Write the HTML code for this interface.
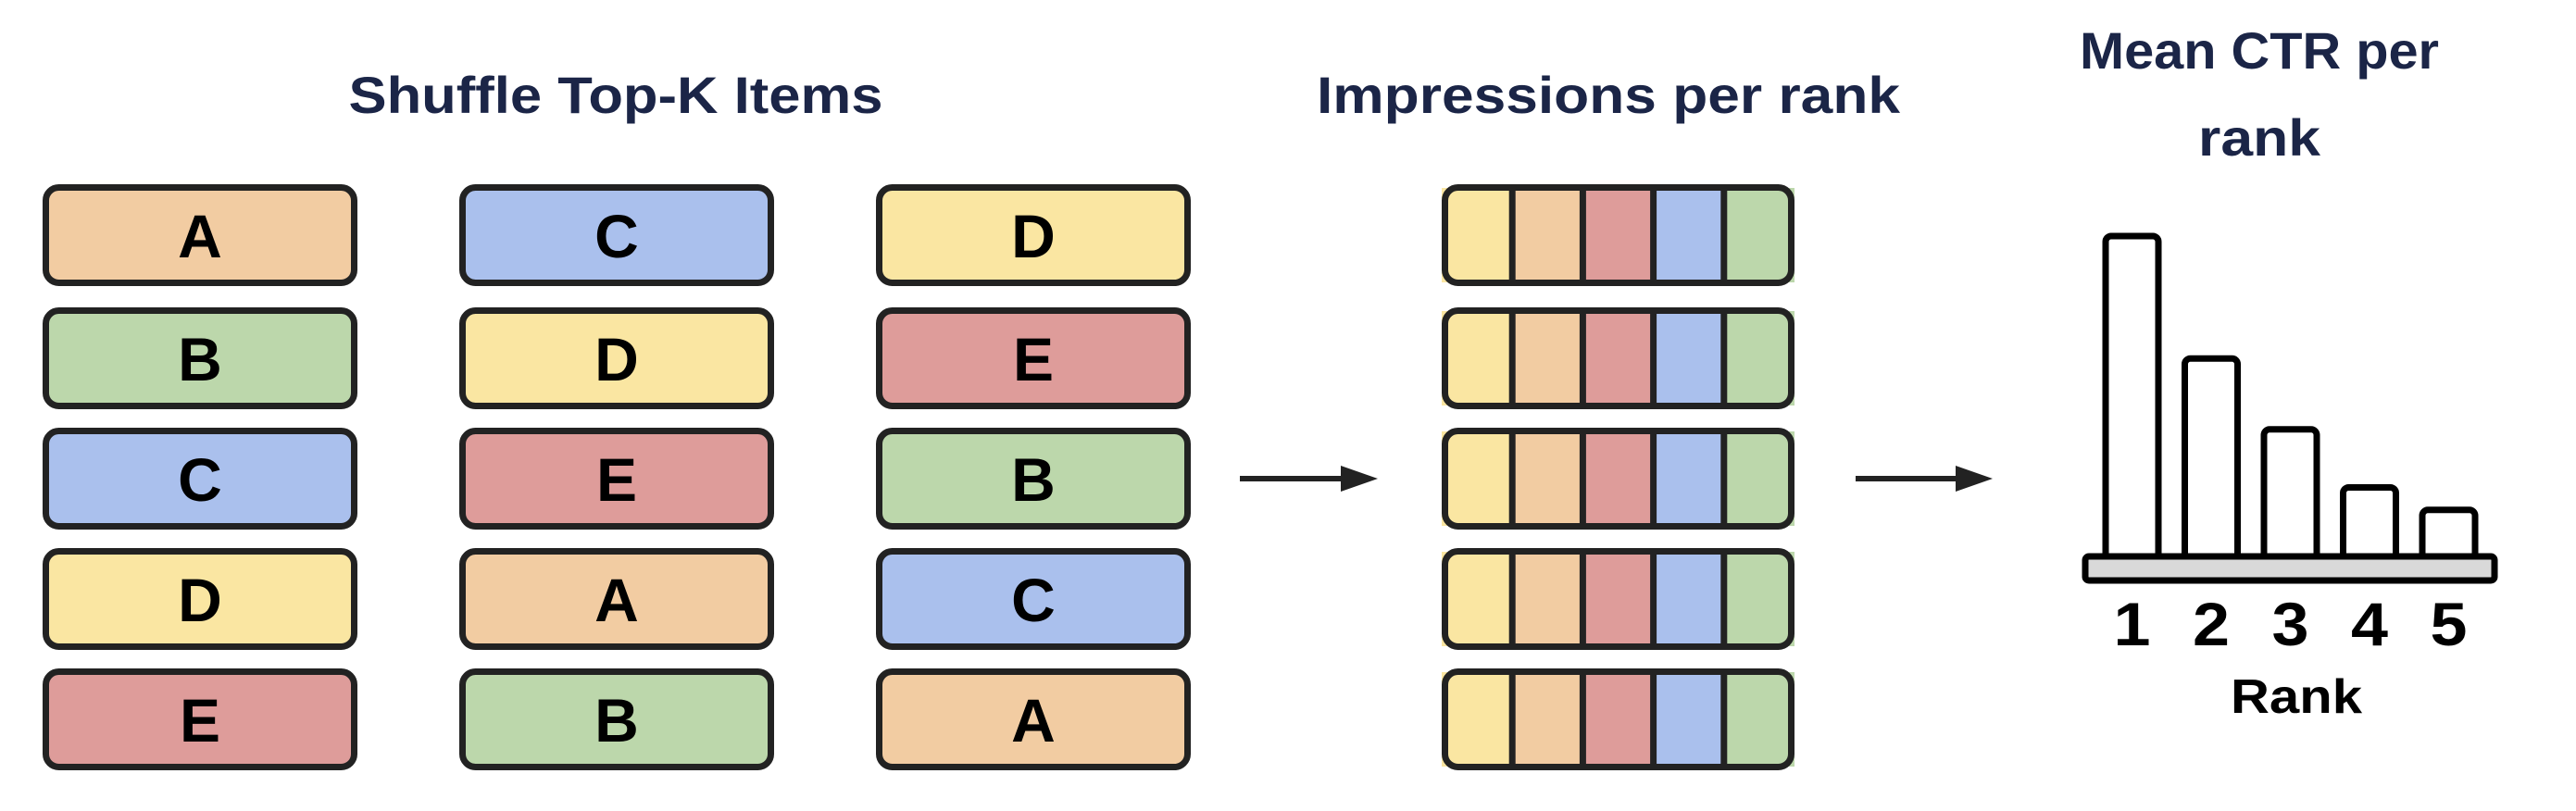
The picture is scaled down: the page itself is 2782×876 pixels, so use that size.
<!DOCTYPE html>
<html><head><meta charset="utf-8"><style>
html,body{margin:0;padding:0;background:#fff;}
svg{display:block;}
text{font-family:"Liberation Sans",Arial,sans-serif;font-weight:bold;}
</style></head><body>
<svg id="s" width="2782" height="876" viewBox="0 0 2782 876" xmlns="http://www.w3.org/2000/svg">
<text x="665" y="122" font-size="56" fill="#1b2547" text-anchor="middle" textLength="577" lengthAdjust="spacingAndGlyphs">Shuffle Top-K Items</text>
<text x="1737" y="122" font-size="56" fill="#1b2547" text-anchor="middle" textLength="630" lengthAdjust="spacingAndGlyphs">Impressions per rank</text>
<text x="2440" y="74" font-size="56" fill="#1b2547" text-anchor="middle" textLength="388" lengthAdjust="spacingAndGlyphs">Mean CTR per</text>
<text x="2440" y="168" font-size="56" fill="#1b2547" text-anchor="middle" textLength="132" lengthAdjust="spacingAndGlyphs">rank</text>
<g id="g"></g>
</svg>
<script>
const columns = [["A","B","C","D","E"],["C","D","E","A","B"],["D","E","B","C","A"]];
const colorOf = {A:"#f2cca2",B:"#bcd7ab",C:"#aac0ed",D:"#fae6a2",E:"#de9c9a"};
const segOrder = ["D","A","E","C","B"];
const ranks = ["1","2","3","4","5"];
const ctrValues = [1.0, 0.62, 0.40, 0.22, 0.15];

const NS="http://www.w3.org/2000/svg";
const g=document.getElementById('g');
function mk(tag,attrs){const e=document.createElementNS(NS,tag);for(const k in attrs)e.setAttribute(k,attrs[k]);g.appendChild(e);return e;}
const colX=[46,496,946], boxW=340, rowY=[199,332,462,592,722], boxH=110;
columns.forEach((col,ci)=>{col.forEach((l,ri)=>{
  const r=mk('rect',{x:colX[ci]+3.5,y:rowY[ri]+3.5,width:boxW-7,height:boxH-7,rx:14,fill:colorOf[l],stroke:"#222",'stroke-width':7});
  
  
  const t=mk('text',{x:colX[ci]+boxW/2,y:rowY[ri]+boxH/2+24,'font-size':66,'text-anchor':'middle',fill:'#000'});
  t.textContent=l;
  
  
});});
// impressions
const ix=1557, iw=381, segW=(iw)/5;
rowY.forEach((y,ri)=>{
  segOrder.forEach((l,si)=>{
    const s=mk('rect',{x:ix+si*segW,y:y+4,width:segW,height:boxH-8,fill:colorOf[l]});
    
    
  });
  for(let k=1;k<5;k++){const d=mk('line',{x1:ix+k*segW,x2:ix+k*segW,y1:y,y2:y+boxH,stroke:'#222','stroke-width':7});
    
    }
  const o=mk('rect',{x:ix+3.5,y:y+3.5,width:iw-7,height:boxH-7,rx:14,fill:'none',stroke:'#222','stroke-width':7});
  
  
});
// arrows
[[1339,1488],[2004,2152]].forEach(([a,b],i)=>{
  const l=mk('line',{x1:a,x2:b-30,y1:517,y2:517,stroke:'#222','stroke-width':6});
  
  
  const p=mk('polygon',{points:`${b-40},503 ${b},517 ${b-40},531`,fill:'#222'});
  
  
});
// bar chart
const baseY=600, maxH=348, barX0=2271, barStep=85.5, barW=63;
const yScale=v=>baseY-v*maxH;
const xScale=i=>barX0+i*barStep;
ctrValues.forEach((v,i)=>{
  const b=mk('rect',{x:xScale(i)+3,y:yScale(v)+3,width:barW-6,height:baseY-yScale(v)+4,rx:6,fill:'#fff',stroke:'#000','stroke-width':7});
  
  
  const t=mk('text',{x:xScale(i)+barW/2,y:697,'font-size':66,'text-anchor':'middle',fill:'#000',textLength:40,lengthAdjust:'spacingAndGlyphs'});
  t.textContent=ranks[i];
  
  
});
const base=mk('rect',{x:2252,y:601,width:442,height:26,rx:4,fill:'#d9d9d9',stroke:'#000','stroke-width':7});


const rl=mk('text',{x:2480,y:770,'font-size':52,'text-anchor':'middle',fill:'#000',textLength:142,lengthAdjust:'spacingAndGlyphs'});
rl.textContent='Rank';


</script>
</body></html>
